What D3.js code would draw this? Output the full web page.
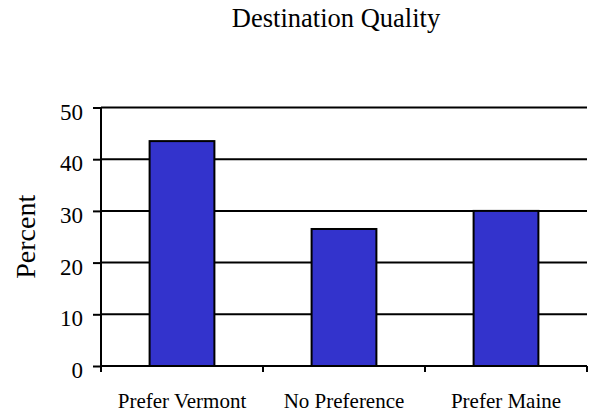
<!DOCTYPE html>
<html>
<head>
<meta charset="utf-8">
<script src="https://cdn.jsdelivr.net/npm/d3@7/dist/d3.min.js"></script>
<style>
  html, body { margin: 0; padding: 0; background: #fff; }
  svg { display: block; }
  text { font-family: "Liberation Serif", "Times New Roman", serif; fill: #000; }
</style>
</head>
<body>
<svg id="chart" width="589" height="413"></svg>
<script>
// Survey responses: which state offers the better destination quality
const categories = ["Prefer Vermont", "No Preference", "Prefer Maine"];
const percents = [43.5, 26.5, 30];
const yTicks = [0, 10, 20, 30, 40, 50];
const chartTitle = "Destination Quality";
const yTitle = "Percent";

const svg = d3.select("#chart");
const plot = { left: 101, right: 587, top: 107.5, bottom: 366 };
const serif = '"Liberation Serif", "Times New Roman", serif';

const x = d3.scaleBand()
  .domain(categories)
  .range([plot.left, plot.right])
  .paddingInner(0.6)
  .paddingOuter(0.3);

const xStep = d3.scaleBand()
  .domain(categories)
  .range([plot.left, plot.right])
  .padding(0);

const y = d3.scaleLinear()
  .domain([0, 50])
  .range([plot.bottom, plot.top]);

// Horizontal gridlines at every major tick
svg.append("g")
  .selectAll("line")
  .data(yTicks.filter(d => d > 0))
  .join("line")
  .attr("x1", plot.left)
  .attr("x2", plot.right)
  .attr("y1", d => y(d))
  .attr("y2", d => y(d))
  .attr("stroke", "#000")
  .attr("stroke-width", 2);

// Bars
svg.append("g")
  .selectAll("rect")
  .data(percents)
  .join("rect")
  .attr("x", (d, i) => x(categories[i]))
  .attr("width", x.bandwidth())
  .attr("y", d => y(d))
  .attr("height", d => y(0) - y(d))
  .attr("fill", "#3333CC")
  .attr("stroke", "#000")
  .attr("stroke-width", 2);

// Y axis
const yAxis = svg.append("g")
  .attr("transform", `translate(${plot.left},0)`)
  .call(d3.axisLeft(y).tickValues(yTicks).tickSize(8).tickPadding(10).tickSizeOuter(0));
yAxis.attr("font-family", serif).attr("font-size", 23);
yAxis.select(".domain").attr("stroke-width", 2).attr("d", `M0,${plot.top}V${plot.bottom + 6}`);
yAxis.selectAll(".tick line").attr("stroke-width", 2);
yAxis.selectAll(".tick text").attr("dy", "0.5em");

// X axis with ticks on category boundaries
const xAxis = svg.append("g")
  .attr("transform", `translate(0,${plot.bottom})`);
xAxis.append("line")
  .attr("x1", plot.left).attr("x2", plot.right)
  .attr("stroke", "#000").attr("stroke-width", 2);
xAxis.selectAll(".bound")
  .data(categories)
  .join("line")
  .attr("class", "bound")
  .attr("x1", d => xStep(d) + xStep.bandwidth())
  .attr("x2", d => xStep(d) + xStep.bandwidth())
  .attr("y1", 0).attr("y2", 6)
  .attr("stroke", "#000").attr("stroke-width", 2);
xAxis.selectAll(".cat")
  .data(categories)
  .join("text")
  .attr("class", "cat")
  .attr("x", d => xStep(d) + xStep.bandwidth() / 2)
  .attr("y", 42)
  .attr("text-anchor", "middle")
  .style("font-size", "21px")
  .text(d => d);

// Titles
svg.append("text")
  .attr("x", 336)
  .attr("y", 27)
  .attr("text-anchor", "middle")
  .style("font-size", "26.5px")
  .text(chartTitle);

svg.append("text")
  .attr("transform", `translate(35,${(plot.top + plot.bottom) / 2}) rotate(-90)`)
  .attr("text-anchor", "middle")
  .style("font-size", "28px")
  .text(yTitle);
</script>
</body>
</html>
